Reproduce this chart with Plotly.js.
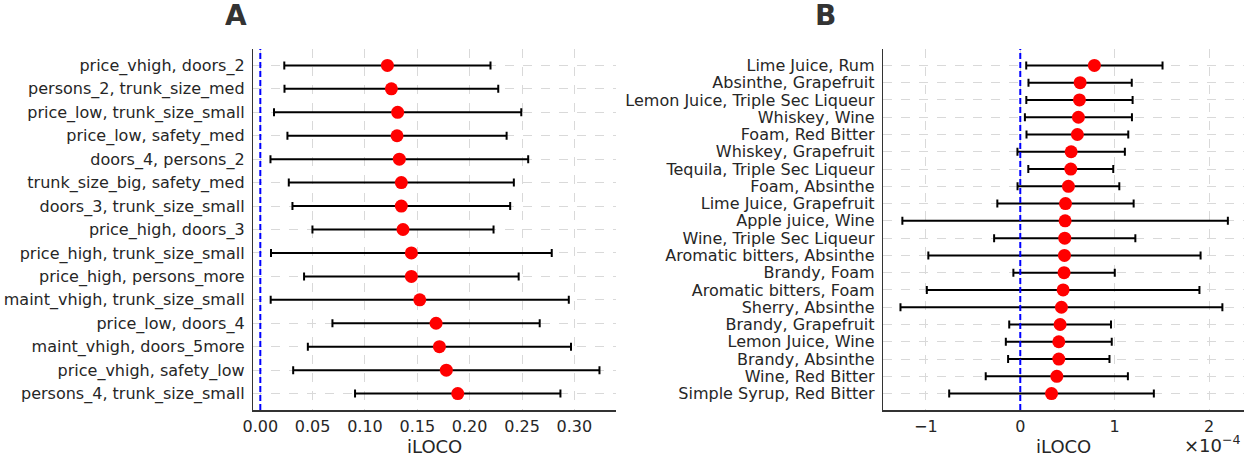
<!DOCTYPE html>
<html>
<head>
<meta charset="utf-8">
<script src="https://cdn.plot.ly/plotly-3.0.1.min.js"></script>
<style>html,body{margin:0;padding:0;background:#fff;}#chart{width:1245px;height:455px;}</style>
</head>
<body>
<div id="chart"></div>
<script>
// Panel A (top to bottom)
const aLabels = ["price_vhigh, doors_2","persons_2, trunk_size_med","price_low, trunk_size_small","price_low, safety_med","doors_4, persons_2","trunk_size_big, safety_med","doors_3, trunk_size_small","price_high, doors_3","price_high, trunk_size_small","price_high, persons_more","maint_vhigh, trunk_size_small","price_low, doors_4","maint_vhigh, doors_5more","price_vhigh, safety_low","persons_4, trunk_size_small"];
const aValues = [0.1214,0.1252,0.1312,0.1306,0.1328,0.1347,0.1347,0.1363,0.1443,0.1443,0.1523,0.1679,0.1711,0.1777,0.1886];
const aErrors = [0.0985,0.1021,0.1181,0.1047,0.1231,0.1075,0.1040,0.0865,0.1341,0.1025,0.1424,0.0990,0.1257,0.1463,0.0981];
const aTicks = [0,0.05,0.1,0.15,0.2,0.25,0.3];
const aTickText = ["0.00","0.05","0.10","0.15","0.20","0.25","0.30"];
// Panel B (top to bottom), values in units of 1e-4
const bLabels = ["Lime Juice, Rum","Absinthe, Grapefruit","Lemon Juice, Triple Sec Liqueur","Whiskey, Wine","Foam, Red Bitter","Whiskey, Grapefruit","Tequila, Triple Sec Liqueur","Foam, Absinthe","Lime Juice, Grapefruit","Apple juice, Wine","Wine, Triple Sec Liqueur","Aromatic bitters, Absinthe","Brandy, Foam","Aromatic bitters, Foam","Sherry, Absinthe","Brandy, Grapefruit","Lemon Juice, Wine","Brandy, Absinthe","Wine, Red Bitter","Simple Syrup, Red Bitter"];
const bValuesE4 = [0.785,0.634,0.627,0.616,0.605,0.539,0.535,0.510,0.479,0.475,0.471,0.468,0.464,0.454,0.436,0.422,0.408,0.408,0.387,0.331];
const bErrorsE4 = [0.722,0.547,0.563,0.567,0.539,0.569,0.450,0.539,0.722,1.724,0.748,1.442,0.537,1.444,1.705,0.539,0.561,0.537,0.753,1.084];
const bTicks = [-1,0,1,2];

const W = 1245, H = 455;
const FONT = "DejaVu Sans, sans-serif";
const TXT = "#262626";

function trace(x, y, err, xa, ya) {
  return {
    type: "scatter", mode: "markers", x: x, y: y, xaxis: xa, yaxis: ya,
    marker: {color: "#ff0000", size: 13},
    error_x: {type: "data", array: err, visible: true, color: "#000000", thickness: 2, width: 4},
    hoverinfo: "skip", showlegend: false, cliponaxis: false
  };
}

const yDom = [(H-410)/H, (H-49)/H];
const common = {
  showline: true, linecolor: "#333333", linewidth: 1.5, mirror: false,
  showgrid: true, gridcolor: "#d9d9d9", gridwidth: 1, griddash: "dash",
  zeroline: false, ticks: "", tickfont: {family: FONT, size: 16, color: TXT}
};
const axA = [253.3/W, 615.7/W], axB = [883.3/W, 1244/W];

const layout = {
  width: W, height: H, margin: {l: 0, r: 0, t: 0, b: 0},
  paper_bgcolor: "#fff", plot_bgcolor: "#fff",
  font: {family: FONT, color: TXT},
  xaxis: Object.assign({}, common, {domain: axA, range: [-0.0067, 0.3395], anchor: "y",
    tickmode: "array", tickvals: aTicks, ticktext: aTickText, ticklabelstandoff: 1}),
  yaxis: Object.assign({}, common, {domain: yDom, type: "category", categoryorder: "array", categoryarray: aLabels,
    tickmode: "array", tickvals: aLabels, ticktext: aLabels,
    range: [14.7, -0.7], anchor: "x", ticklabelstandoff: 4}),
  xaxis2: Object.assign({}, common, {domain: axB, range: [-1.451, 2.37], anchor: "y2",
    tickmode: "array", tickvals: bTicks, ticklabelstandoff: 1}),
  yaxis2: Object.assign({}, common, {domain: yDom, type: "category", categoryorder: "array", categoryarray: bLabels,
    tickmode: "array", tickvals: bLabels, ticktext: bLabels,
    range: [19.95, -0.95], anchor: "x2", ticklabelstandoff: 4}),
  shapes: [
    {type: "line", xref: "x", yref: "y domain", x0: 0, x1: 0, y0: 0, y1: 1, layer: "above",
     line: {color: "#0000ff", width: 2, dash: "6px,3px"}},
    {type: "line", xref: "x2", yref: "y2 domain", x0: 0, x1: 0, y0: 0, y1: 1, layer: "above",
     line: {color: "#0000ff", width: 2, dash: "6px,3px"}}
  ],
  annotations: [
    {text: "<b>A</b>", xref: "paper", yref: "paper", x: 236/W, y: 1-15/H, xanchor: "center", yanchor: "middle",
     height: 28, showarrow: false, font: {family: FONT, size: 28, color: "#333333"}},
    {text: "<b>B</b>", xref: "paper", yref: "paper", x: 825/W, y: 1-15/H, xanchor: "center", yanchor: "middle",
     height: 28, showarrow: false, font: {family: FONT, size: 28, color: "#333333"}},
    {text: "iLOCO", xref: "paper", yref: "paper", x: (axA[0]+axA[1])/2, y: 1-446/H, xanchor: "center", yanchor: "middle",
     height: 18, showarrow: false, font: {family: FONT, size: 18, color: TXT}},
    {text: "iLOCO", xref: "paper", yref: "paper", x: (axB[0]+axB[1])/2, y: 1-446/H, xanchor: "center", yanchor: "middle",
     height: 18, showarrow: false, font: {family: FONT, size: 18, color: TXT}},
    {text: "×10<sup>−4</sup>", xref: "paper", yref: "paper", x: 1243/W, y: 1-444/H, xanchor: "right", yanchor: "middle",
     height: 18, showarrow: false, font: {family: FONT, size: 18, color: TXT}}
  ]
};

Plotly.newPlot("chart", [
  trace(aValues, aLabels, aErrors, "x", "y"),
  trace(bValuesE4, bLabels, bErrorsE4, "x2", "y2")
], layout, {staticPlot: true, displayModeBar: false});
</script>
</body>
</html>
